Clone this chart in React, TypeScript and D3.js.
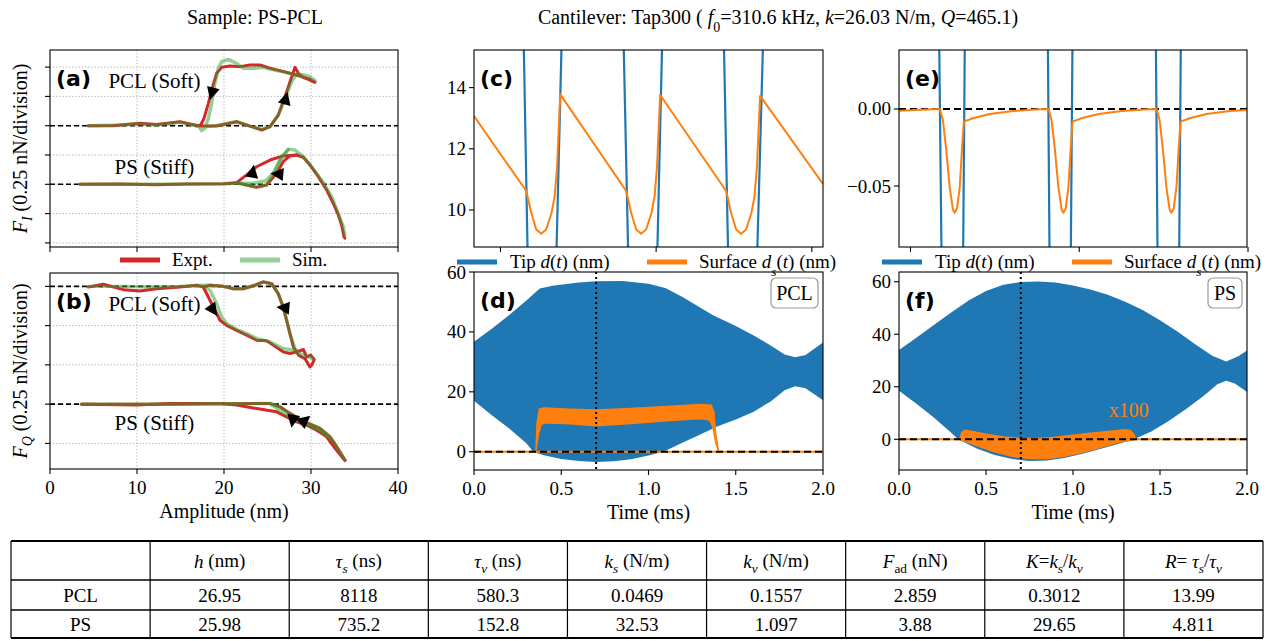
import React from "react";
import * as d3 from "d3";

type P = [number, number];

const SERIF = "Liberation Serif, DejaVu Serif, Noto Serif, serif";
const SANS = "DejaVu Sans, sans-serif";
const BLUE = "#1f77b4";
const ORANGE = "#ff7f0e";
const RED = "#d62728";
const GREEN = "#2ca02c";

// ---------- (a) F_I vs amplitude (nN; PS baseline 0, PCL baseline 0.5)
const aPclExpt: P[] = [[4.41,0.5],[7.28,0.5],[10.34,0.52],[12.26,0.51],[14.94,0.534],[16.09,0.515],[17.24,0.497],[19.15,0.497],[21.45,0.534],[22.99,0.497],[24.33,0.463],[25.29,0.492],[26.24,0.591],[27.01,0.748],[27.66,0.89],[28.16,0.998],[28.54,0.947],[29.12,0.913],[29.88,0.896],[30.46,0.87],[29.69,0.896],[28.73,0.924],[27.58,0.947],[26.43,0.97],[25.29,0.99],[24.13,1.018],[22.99,1.018],[21.84,1.004],[20.69,1.009],[19.73,0.998],[19.15,0.947],[18.7,0.833],[18.2,0.691],[17.7,0.563],[17.32,0.506],[16.86,0.497]];
const aPclSim: P[] = [[4.41,0.5],[7.28,0.505],[10.34,0.515],[12.26,0.505],[14.94,0.53],[16.09,0.51],[17.05,0.497],[17.43,0.458],[18.0,0.492],[19.15,0.503],[21.45,0.534],[23.0,0.497],[24.33,0.469],[25.29,0.492],[26.24,0.591],[27.12,0.748],[27.77,0.876],[28.35,0.941],[29.12,0.933],[29.88,0.918],[30.46,0.884],[29.88,0.913],[29.12,0.924],[28.35,0.933],[27.2,0.953],[26.05,0.97],[24.52,0.998],[23.37,0.99],[22.22,0.99],[21.45,1.032],[20.5,1.066],[19.73,1.046],[19.35,0.99],[18.96,0.861],[18.58,0.691],[18.2,0.563],[17.8,0.478],[17.43,0.458]];
const aPsExpt: P[][] = [
  [[3.45,0],[8,0.003],[12,-0.003],[16,0.003],[20,0.005],[21.45,0.014],[22.6,-0.006],[23.75,-0.026],[24.9,-0.006],[26.05,0.094],[26.8,0.193],[27.58,0.242],[28.35,0.25],[29.12,0.23],[29.88,0.165],[30.84,0.065],[31.8,-0.049],[32.56,-0.162],[33.14,-0.262],[33.52,-0.347],[33.79,-0.447],[33.9,-0.46]],
  [[28.35,0.25],[26.8,0.242],[25.3,0.207],[23.75,0.15],[22.6,0.08],[21.45,0.014]],
];
const aPsSim: P[][] = [
  [[3.45,0],[8,0],[12,0],[16,0.003],[20,0.005],[21.45,0.01],[22.6,-0.006],[23.75,-0.02],[24.9,-0.006],[25.86,0.108],[26.62,0.236],[27.39,0.298],[28.16,0.293],[29.12,0.236],[30.07,0.15],[31.22,0.037],[32.37,-0.105],[33.14,-0.248],[33.71,-0.361],[33.9,-0.432]],
  [[27.39,0.298],[26.4,0.2],[25.6,0.09],[24.8,0.03],[23.5,0.01],[21.45,0.01]],
];
// arrows: [amplitude, force, angle in degrees]
const aArrows: [number, number, number][] = [[18.6,0.776,105],[27.1,0.733,-75],[23.3,0.108,-80],[26.13,0.088,185]];

// ---------- (b) F_Q vs amplitude (PS baseline 0, PCL baseline 0.75)
const bPclExpt: P[] = [[4.41,0.746],[6.13,0.763],[8.43,0.729],[10.34,0.72],[12.26,0.735],[14.94,0.746],[16.86,0.757],[17.62,0.746],[18.2,0.682],[18.77,0.619],[19.54,0.534],[20.3,0.502],[21.45,0.47],[22.6,0.439],[23.75,0.407],[24.9,0.403],[25.86,0.369],[26.8,0.333],[27.58,0.322],[28.35,0.333],[29.12,0.348],[29.5,0.301],[29.96,0.312],[30.38,0.284],[30.08,0.248],[29.88,0.237],[29.3,0.29],[28.6,0.31],[27.97,0.364],[27.58,0.449],[27.2,0.534],[26.8,0.619],[26.24,0.703],[25.48,0.767],[24.52,0.778],[23.56,0.757],[22.22,0.735],[21.07,0.735],[19.92,0.75],[18.39,0.757],[17.62,0.746]];
const bPclSim: P[] = [[4.41,0.75],[8.05,0.75],[11.88,0.746],[14.94,0.75],[17.62,0.757],[18.39,0.725],[19.15,0.64],[19.73,0.555],[20.3,0.513],[21.45,0.475],[22.6,0.449],[23.75,0.418],[25.29,0.396],[26.82,0.354],[27.97,0.343],[29.12,0.312],[29.88,0.297],[30.27,0.29],[28.73,0.318],[28.16,0.354],[27.58,0.449],[27.2,0.534],[26.8,0.619],[26.24,0.703],[25.48,0.767],[24.52,0.778],[23.56,0.757],[22.22,0.735],[21.07,0.735],[19.92,0.75],[18.39,0.757],[17.62,0.757]];
const bPsExpt: P[][] = [
  [[3.64,0],[9.96,-0.006],[13.79,0.004],[19.54,0.004],[21.45,-0.006],[23.75,-0.028],[26.05,-0.049],[27.2,-0.081],[28.35,-0.113],[29.5,-0.134],[30.65,-0.166],[31.8,-0.208],[32.76,-0.282],[33.9,-0.36]],
  [[3.64,0],[13.79,0],[19.54,0.002],[25.29,0.004],[26.43,-0.017],[27.58,-0.059],[28.73,-0.098],[29.88,-0.127],[31.03,-0.155],[32.18,-0.208],[32.95,-0.271],[33.9,-0.356]],
];
const bPsSim: P[][] = [
  [[3.64,0],[13.79,0],[19.54,0.002],[25.29,0.004],[26.43,-0.017],[27.58,-0.059],[28.73,-0.098],[29.88,-0.127],[31.03,-0.155],[32.18,-0.208],[32.95,-0.271],[33.9,-0.356]],
  [[25.29,0.004],[27.2,-0.07],[28.73,-0.11],[29.88,-0.14],[31.03,-0.17],[32.18,-0.215]],
];
const bArrows: [number, number, number][] = [[18.77,0.598,55],[26.82,0.614,185],[27.89,-0.106,100],[29.31,-0.102,-40]];

// ---------- (c) PCL zoom, time in µs, nm
const cTip: P[][] = [
  [[700.75,15.3],[700.87,8.7]], [[701.80,8.7],[701.96,15.3]],
  [[703.96,15.3],[704.10,8.7]], [[705.04,8.7],[705.19,15.3]],
  [[707.18,15.3],[707.31,8.7]], [[708.25,8.7],[708.43,15.3]],
];
const cSurf: P[] = [[699.15,13.07],[700.83,10.62],[700.99,9.9],[701.15,9.36],[701.31,9.22],[701.47,9.36],[701.64,9.9],[701.74,10.44],[701.82,11.43],[701.88,12.85],[701.92,13.78],
  [704.04,10.62],[704.2,9.9],[704.36,9.36],[704.52,9.22],[704.68,9.36],[704.85,9.9],[704.95,10.44],[705.03,11.43],[705.09,12.85],[705.13,13.76],
  [707.25,10.62],[707.41,9.9],[707.57,9.36],[707.73,9.22],[707.89,9.36],[708.06,9.9],[708.16,10.44],[708.24,11.43],[708.3,12.85],[708.34,13.73],[710.36,10.85]];
const cYTicks = [10, 12, 14];
const zoomXTicks = [700, 705, 710];

// ---------- (d) PCL envelope, time in ms
const dTipUpper: P[] = [[0,36.7],[0.1,41],[0.2,45.6],[0.3,50.5],[0.377,54.5],[0.45,55.4],[0.6,56.5],[0.7,56.9],[0.85,57],[1.0,56.1],[1.1,54.6],[1.2,51.5],[1.3,48],[1.37,45.6],[1.5,42],[1.6,38.9],[1.7,35.5],[1.78,32.5],[1.84,31.5],[1.9,32.3],[2.0,36.5]];
const dTipLower: P[] = [[0,17],[0.1,12.3],[0.2,7.8],[0.3,2.8],[0.339,0],[0.4,-1.2],[0.5,-2.4],[0.6,-3.1],[0.7,-3.4],[0.8,-3.2],[0.9,-2.5],[1.0,-1.3],[1.085,0],[1.2,3.2],[1.3,5.8],[1.39,8.3],[1.5,10.8],[1.6,13.3],[1.7,16.8],[1.78,20.5],[1.84,21.9],[1.9,21.2],[2.0,17.2]];
const dSurfUpper: P[] = [[0.355,0.5],[0.362,10],[0.375,14.3],[0.4,14.6],[0.55,14.2],[0.7,13.9],[0.9,14.4],[1.1,15.1],[1.3,15.8],[1.36,15.5],[1.375,13],[1.385,6],[1.4,0.5]];
const dSurfLower: P[] = [[0.355,0.5],[0.37,6],[0.385,9.2],[0.41,9.7],[0.55,9.3],[0.7,8.7],[0.9,9.4],[1.1,10.3],[1.3,11.1],[1.35,10.6],[1.37,8],[1.385,3],[1.4,0.5]];

// ---------- (e) PS zoom
const eTip: P[][] = [
  [[700.85,0.045],[700.92,-0.095]], [[701.56,-0.095],[701.61,0.045]],
  [[704.07,0.045],[704.12,-0.095]], [[704.75,-0.095],[704.8,0.045]],
  [[707.27,0.045],[707.32,-0.095]], [[707.96,-0.095],[708.01,0.045]],
];
const eSurf: P[] = [[699.68,-0.0011],[700.3,-0.0005],[700.87,0],[700.96,-0.0071],[701.06,-0.0266],[701.16,-0.0505],[701.26,-0.0656],[701.31,-0.0673],[701.38,-0.0645],[701.46,-0.0505],[701.53,-0.0245],[701.58,-0.0082],[701.85,-0.006],[702.35,-0.0032],[703.04,-0.0013],[703.83,-0.0002],[704.09,0],
  [704.18,-0.0071],[704.28,-0.0266],[704.38,-0.0505],[704.48,-0.0656],[704.53,-0.0673],[704.6,-0.0645],[704.68,-0.0505],[704.75,-0.0245],[704.8,-0.0082],[705.07,-0.006],[705.57,-0.0032],[706.26,-0.0013],[707.05,-0.0002],[707.29,0],
  [707.38,-0.0071],[707.48,-0.0266],[707.58,-0.0505],[707.68,-0.0656],[707.73,-0.0673],[707.8,-0.0645],[707.88,-0.0505],[707.95,-0.0245],[708.0,-0.0082],[708.27,-0.006],[708.77,-0.0032],[709.46,-0.0013],[709.97,-0.0007]];
const eYTicks = [0, -0.05];

// ---------- (f) PS envelope (surface x100)
const fTipUpper: P[] = [[0,34],[0.1,38.7],[0.2,43.5],[0.3,48.3],[0.4,52.8],[0.5,56.5],[0.6,58.8],[0.7,59.9],[0.8,60.1],[0.9,59.7],[1.0,58.6],[1.1,57],[1.2,55],[1.3,52.4],[1.4,49.2],[1.5,45.3],[1.6,41],[1.7,36.3],[1.8,31.8],[1.88,29.6],[1.95,31.6],[2.0,33.8]];
const fTipLower: P[] = [[0,18.5],[0.1,13.5],[0.2,8.3],[0.3,2.5],[0.34,0],[0.45,-3.6],[0.55,-6],[0.65,-7.5],[0.75,-8.3],[0.85,-8.1],[0.95,-7.1],[1.05,-5.6],[1.15,-3.8],[1.25,-2],[1.35,0],[1.45,3],[1.55,7],[1.65,11.5],[1.75,16.5],[1.83,21],[1.88,22.3],[1.93,21.2],[2.0,18]];
const fSurfUpper: P[] = [[0.35,0],[0.36,2.5],[0.38,3.4],[0.42,3.0],[0.5,1.9],[0.6,0.9],[0.7,0.3],[0.8,0.3],[0.9,0.8],[1.0,1.5],[1.1,2.3],[1.2,3.0],[1.3,3.6],[1.33,3.3],[1.35,1.8],[1.36,0]];
const fSurfLower: P[] = [[0.35,0],[0.45,-2.5],[0.55,-4.8],[0.65,-6.5],[0.75,-7.3],[0.85,-7.3],[0.95,-6.5],[1.05,-5],[1.15,-3.2],[1.25,-1.3],[1.36,0]];

const envYTicks = [0, 20, 40, 60];
const timeTicks = [0, 0.5, 1.0, 1.5, 2.0];
const ampTicks = [0, 10, 20, 30, 40];
const aYTicks = [-0.5, -0.25, 0, 0.25, 0.5, 0.75, 1.0];
const bYTicks = [-0.25, 0, 0.25, 0.5, 0.75];

// ---------- table
const tableRowNames = ["PCL", "PS"];
const tableValues = [
  ["26.95", "8118", "580.3", "0.0469", "0.1557", "2.859", "0.3012", "13.99"],
  ["25.98", "735.2", "152.8", "32.53", "1.097", "3.88", "29.65", "4.811"],
];

type Box = { l: number; r: number; t: number; b: number };
const boxA: Box = { l: 50, r: 398, t: 50, b: 247 };
const boxB: Box = { l: 50, r: 398, t: 273, b: 469 };
const boxC: Box = { l: 474, r: 823, t: 50, b: 247 };
const boxD: Box = { l: 474, r: 823, t: 272, b: 470 };
const boxE: Box = { l: 899, r: 1247, t: 50, b: 247 };
const boxF: Box = { l: 899, r: 1247, t: 272, b: 470 };

const xA = d3.scaleLinear().domain([0, 40]).range([boxA.l, boxA.r]);
const yA = d3.scaleLinear().domain([-0.535, 1.146]).range([boxA.b, boxA.t]);
const yB = d3.scaleLinear().domain([-0.413, 0.835]).range([boxB.b, boxB.t]);
const xC = d3.scaleLinear().domain([699.15, 710.36]).range([boxC.l, boxC.r]);
const yC = d3.scaleLinear().domain([8.79, 15.23]).range([boxC.b, boxC.t]);
const xD = d3.scaleLinear().domain([0, 2]).range([boxD.l, boxD.r]);
const yD = d3.scaleLinear().domain([-6.1, 60]).range([boxD.b, boxD.t]);
const xE = d3.scaleLinear().domain([699.66, 709.97]).range([boxE.l, boxE.r]);
const yE = d3.scaleLinear().domain([-0.0896, 0.0383]).range([boxE.b, boxE.t]);
const xF = d3.scaleLinear().domain([0, 2]).range([boxF.l, boxF.r]);
const yF = d3.scaleLinear().domain([-11.7, 63.7]).range([boxF.b, boxF.t]);

type S = d3.ScaleLinear<number, number>;
const mkLine = (xs: S, ys: S) => (pts: P[]) =>
  d3.line<P>().x((d) => xs(d[0])).y((d) => ys(d[1]))(pts) || "";
const band = (xs: S, ys: S, up: P[], lo: P[]) =>
  mkLine(xs, ys)([...up, ...lo.slice().reverse()]) + "Z";

function Frame({ b }: { b: Box }) {
  return <rect x={b.l} y={b.t} width={b.r - b.l} height={b.b - b.t} fill="none" stroke="#000" strokeWidth={1.1} />;
}

function YAxis({ b, ys, ticks, fmt }: { b: Box; ys: S; ticks: number[]; fmt?: (v: number) => string }) {
  return (
    <g>
      {ticks.map((t) => (
        <g key={t}>
          <line x1={b.l - 5} x2={b.l} y1={ys(t)} y2={ys(t)} stroke="#000" strokeWidth={1.1} />
          {fmt && (
            <text x={b.l - 8} y={ys(t)} textAnchor="end" dominantBaseline="central" fontFamily={SERIF} fontSize={19}>
              {fmt(t)}
            </text>
          )}
        </g>
      ))}
    </g>
  );
}

function XAxis({ b, xs, ticks, fmt }: { b: Box; xs: S; ticks: number[]; fmt?: (v: number) => string }) {
  return (
    <g>
      {ticks.map((t) => (
        <g key={t}>
          <line x1={xs(t)} x2={xs(t)} y1={b.b} y2={b.b + 5} stroke="#000" strokeWidth={1.1} />
          {fmt && (
            <text x={xs(t)} y={b.b + 25} textAnchor="middle" fontFamily={SERIF} fontSize={19}>
              {fmt(t)}
            </text>
          )}
        </g>
      ))}
    </g>
  );
}

function Grid({ b, xs, ys, xt, yt }: { b: Box; xs: S; ys: S; xt: number[]; yt: number[] }) {
  return (
    <g stroke="#b0b0b0" strokeWidth={1} strokeDasharray="1.2,2">
      {xt.filter((t) => xs(t) > b.l + 1 && xs(t) < b.r - 1).map((t) => (
        <line key={"x" + t} x1={xs(t)} x2={xs(t)} y1={b.t} y2={b.b} />
      ))}
      {yt.map((t) => (
        <line key={"y" + t} x1={b.l} x2={b.r} y1={ys(t)} y2={ys(t)} />
      ))}
    </g>
  );
}

function Label({ b, text }: { b: Box; text: string }) {
  return (
    <text x={b.l + 6} y={b.t + 36} fontFamily={SANS} fontWeight="bold" fontSize={22}>
      {text}
    </text>
  );
}

function Arrow({ x, y, a }: { x: number; y: number; a: number }) {
  return <path d="M7,0 L-6,-6.5 L-6,6.5 Z" fill="#000" transform={`translate(${x},${y}) rotate(${a})`} />;
}

function Sub({ children, italic }: { children: React.ReactNode; italic?: boolean }) {
  return (
    <tspan baselineShift="sub" fontSize="70%" fontStyle={italic ? "italic" : "normal"}>
      {children}
    </tspan>
  );
}

function ForcePanel({ b, ys, yt, zeros, pclE, pclS, psE, psS, arrows, pclY, psY, clip }: any) {
  const ln = mkLine(xA, ys);
  return (
    <g>
      <Grid b={b} xs={xA} ys={ys} xt={ampTicks} yt={yt} />
      {zeros.map((z: number) => (
        <line key={z} x1={b.l} x2={b.r} y1={ys(z)} y2={ys(z)} stroke="#000" strokeWidth={1.6} strokeDasharray="5,3" />
      ))}
      <g clipPath={`url(#${clip})`} fill="none" strokeLinejoin="round" strokeLinecap="round">
        <path d={ln(pclE)} stroke={RED} strokeWidth={3} />
        {psE.map((s: P[], i: number) => <path key={i} d={ln(s)} stroke={RED} strokeWidth={3} />)}
        <path d={ln(pclS)} stroke={GREEN} strokeOpacity={0.5} strokeWidth={3.4} />
        {psS.map((s: P[], i: number) => <path key={i} d={ln(s)} stroke={GREEN} strokeOpacity={0.5} strokeWidth={3.4} />)}
      </g>
      {arrows.map((a: [number, number, number], i: number) => (
        <Arrow key={i} x={xA(a[0])} y={ys(a[1])} a={a[2]} />
      ))}
      <text x={xA(12)} y={ys(pclY)} textAnchor="middle" fontFamily={SERIF} fontSize={21}>PCL (Soft)</text>
      <text x={xA(12)} y={ys(psY)} textAnchor="middle" fontFamily={SERIF} fontSize={21}>PS (Stiff)</text>
      <YAxis b={b} ys={ys} ticks={yt} />
      <Frame b={b} />
    </g>
  );
}

function TipLegend({ x, y }: { x: number; y: number }) {
  return (
    <g fontFamily={SERIF} fontSize={19}>
      <line x1={x} x2={x + 40} y1={y} y2={y} stroke={BLUE} strokeWidth={5} />
      <text x={x + 53} y={y + 6}>
        Tip <tspan fontStyle="italic">d</tspan>(<tspan fontStyle="italic">t</tspan>) (nm)
      </text>
      <line x1={x + 190} x2={x + 230} y1={y} y2={y} stroke={ORANGE} strokeWidth={5} />
      <text x={x + 242} y={y + 6}>
        Surface <tspan fontStyle="italic">d</tspan><Sub italic>s</Sub>(<tspan fontStyle="italic">t</tspan>) (nm)
      </text>
    </g>
  );
}

function EnvPanel({ b, xs, ys, up, lo, sUp, sLo, name }: any) {
  const w = name.length * 13 + 8;
  return (
    <g>
      <path d={band(xs, ys, up, lo)} fill={BLUE} />
      <line x1={b.l} x2={b.r} y1={ys(0)} y2={ys(0)} stroke={ORANGE} strokeWidth={2} />
      <path d={band(xs, ys, sUp, sLo)} fill={ORANGE} stroke={ORANGE} strokeWidth={1.5} strokeLinejoin="round" />
      <line x1={b.l} x2={b.r} y1={ys(0)} y2={ys(0)} stroke="#000" strokeWidth={2} strokeDasharray="7,4" />
      <line x1={xs(0.7)} x2={xs(0.7)} y1={b.t} y2={b.b} stroke="#000" strokeWidth={2} strokeDasharray="2,3" />
      <rect x={b.r - 5 - w} y={b.t + 6} width={w} height={30} rx={5} fill="#fff" fillOpacity={0.85} stroke="#999" strokeWidth={1.2} />
      <text x={b.r - 5 - w / 2} y={b.t + 28} textAnchor="middle" fontFamily={SERIF} fontSize={20}>{name}</text>
      <YAxis b={b} ys={ys} ticks={envYTicks} fmt={(v) => String(v)} />
      <XAxis b={b} xs={xs} ticks={timeTicks} fmt={(v) => v.toFixed(1)} />
      <text x={(b.l + b.r) / 2} y={b.b + 49} textAnchor="middle" fontFamily={SERIF} fontSize={20}>Time (ms)</text>
      <Frame b={b} />
    </g>
  );
}

export default function App() {
  const lnC = mkLine(xC, yC);
  const lnE = mkLine(xE, yE);
  const colW = (1263 - 11) / 9;
  const rows = [541, 580, 610, 638];
  const headers: React.ReactNode[] = [
    "",
    <><tspan fontStyle="italic">h</tspan> (nm)</>,
    <><tspan fontStyle="italic">τ</tspan><Sub italic>s</Sub> (ns)</>,
    <><tspan fontStyle="italic">τ</tspan><Sub italic>v</Sub> (ns)</>,
    <><tspan fontStyle="italic">k</tspan><Sub italic>s</Sub> (N/m)</>,
    <><tspan fontStyle="italic">k</tspan><Sub italic>v</Sub> (N/m)</>,
    <><tspan fontStyle="italic">F</tspan><Sub>ad</Sub> (nN)</>,
    <><tspan fontStyle="italic">K</tspan>=<tspan fontStyle="italic">k</tspan><Sub italic>s</Sub>/<tspan fontStyle="italic">k</tspan><Sub italic>v</Sub></>,
    <><tspan fontStyle="italic">R</tspan>= <tspan fontStyle="italic">τ</tspan><Sub italic>s</Sub>/<tspan fontStyle="italic">τ</tspan><Sub italic>v</Sub></>,
  ];
  return (
    <svg width={1276} height={641} style={{ position: "absolute", left: 0, top: 0, background: "#fff" }}>
      <defs>
        {[["cA", boxA], ["cB", boxB], ["cC", boxC], ["cE", boxE]].map(([id, b]: any) => (
          <clipPath id={id} key={id}>
            <rect x={b.l} y={b.t} width={b.r - b.l} height={b.b - b.t} />
          </clipPath>
        ))}
      </defs>
      <rect width={1276} height={641} fill="#fff" />

      {/* titles */}
      <text x={255} y={24} textAnchor="middle" fontFamily={SERIF} fontSize={20}>Sample: PS-PCL</text>
      <text x={778} y={24} textAnchor="middle" fontFamily={SERIF} fontSize={20}>
        Cantilever: Tap300 ( <tspan fontStyle="italic">f</tspan><Sub>0</Sub>=310.6 kHz, <tspan fontStyle="italic">k</tspan>=26.03 N/m, <tspan fontStyle="italic">Q</tspan>=465.1)
      </text>

      {/* (a) */}
      <ForcePanel b={boxA} ys={yA} yt={aYTicks} zeros={[0, 0.5]} pclE={aPclExpt} pclS={aPclSim} psE={aPsExpt} psS={aPsSim} arrows={aArrows} pclY={0.822} psY={0.088} clip="cA" />
      <XAxis b={boxA} xs={xA} ticks={ampTicks} />
      <Label b={boxA} text="(a)" />
      <text transform={`translate(20,${(boxA.t + boxA.b) / 2}) rotate(-90)`} textAnchor="middle" dominantBaseline="central" fontFamily={SERIF} fontSize={20}>
        <tspan fontStyle="italic">F</tspan><Sub italic>I</Sub> (0.25 nN/division)
      </text>

      {/* legend Expt / Sim */}
      <g fontFamily={SERIF} fontSize={19}>
        <line x1={120} x2={160} y1={260} y2={260} stroke={RED} strokeWidth={5} />
        <text x={172} y={266}>Expt.</text>
        <line x1={240} x2={280} y1={260} y2={260} stroke={GREEN} strokeOpacity={0.5} strokeWidth={5} />
        <text x={292} y={266}>Sim.</text>
      </g>

      {/* (b) */}
      <ForcePanel b={boxB} ys={yB} yt={bYTicks} zeros={[0, 0.75]} pclE={bPclExpt} pclS={bPclSim} psE={bPsExpt} psS={bPsSim} arrows={bArrows} pclY={0.591} psY={-0.165} clip="cB" />
      <XAxis b={boxB} xs={xA} ticks={ampTicks} fmt={(v) => String(v)} />
      <text x={(boxB.l + boxB.r) / 2} y={boxB.b + 49} textAnchor="middle" fontFamily={SERIF} fontSize={20}>Amplitude (nm)</text>
      <Label b={boxB} text="(b)" />
      <text transform={`translate(20,${(boxB.t + boxB.b) / 2}) rotate(-90)`} textAnchor="middle" dominantBaseline="central" fontFamily={SERIF} fontSize={20}>
        <tspan fontStyle="italic">F</tspan><Sub italic>Q</Sub> (0.25 nN/division)
      </text>

      {/* (c) */}
      <g clipPath="url(#cC)" fill="none">
        {cTip.map((s, i) => <path key={i} d={lnC(s)} stroke={BLUE} strokeWidth={2.2} />)}
        <path d={lnC(cSurf)} stroke={ORANGE} strokeWidth={2} strokeLinejoin="round" />
      </g>
      <YAxis b={boxC} ys={yC} ticks={cYTicks} fmt={(v) => String(v)} />
      <XAxis b={boxC} xs={xC} ticks={zoomXTicks} />
      <Label b={boxC} text="(c)" />
      <Frame b={boxC} />
      <TipLegend x={457} y={262} />

      {/* (d) */}
      <EnvPanel b={boxD} xs={xD} ys={yD} up={dTipUpper} lo={dTipLower} sUp={dSurfUpper} sLo={dSurfLower} name="PCL" />
      <Label b={boxD} text="(d)" />

      {/* (e) */}
      <line x1={boxE.l} x2={boxE.r} y1={yE(0)} y2={yE(0)} stroke="#000" strokeWidth={2} strokeDasharray="7,4" />
      <g clipPath="url(#cE)" fill="none">
        {eTip.map((s, i) => <path key={i} d={lnE(s)} stroke={BLUE} strokeWidth={2.2} />)}
        <path d={lnE(eSurf)} stroke={ORANGE} strokeWidth={2} strokeLinejoin="round" />
      </g>
      <YAxis b={boxE} ys={yE} ticks={eYTicks} fmt={(v) => (v === 0 ? "0.00" : "\u2212" + Math.abs(v).toFixed(2))} />
      <XAxis b={boxE} xs={xE} ticks={zoomXTicks} />
      <Label b={boxE} text="(e)" />
      <Frame b={boxE} />
      <TipLegend x={882} y={262} />

      {/* (f) */}
      <EnvPanel b={boxF} xs={xF} ys={yF} up={fTipUpper} lo={fTipLower} sUp={fSurfUpper} sLo={fSurfLower} name="PS" />
      <text x={xF(1.32)} y={yF(11)} textAnchor="middle" dominantBaseline="central" fontFamily={SERIF} fontSize={20} fill={ORANGE}>x100</text>
      <Label b={boxF} text="(f)" />

      {/* table */}
      <g fontFamily={SERIF} fontSize={19}>
        {rows.map((y, i) => (
          <line key={"r" + i} x1={11} x2={1263} y1={y} y2={y} stroke="#000" strokeWidth={i === 0 || i === 3 ? 2 : 1.6} />
        ))}
        {d3.range(10).map((i) => (
          <line key={"c" + i} x1={11 + i * colW} x2={11 + i * colW} y1={rows[0]} y2={rows[3]} stroke="#000" strokeWidth={1.2} />
        ))}
        {headers.map((h, i) => (
          <text key={"h" + i} x={11 + (i + 0.5) * colW} y={(rows[0] + rows[1]) / 2} textAnchor="middle" dominantBaseline="central">{h}</text>
        ))}
        {tableRowNames.map((name, r) => (
          <g key={name}>
            <text x={11 + 0.5 * colW} y={(rows[r + 1] + rows[r + 2]) / 2} textAnchor="middle" dominantBaseline="central">{name}</text>
            {tableValues[r].map((v, c) => (
              <text key={c} x={11 + (c + 1.5) * colW} y={(rows[r + 1] + rows[r + 2]) / 2} textAnchor="middle" dominantBaseline="central">{v}</text>
            ))}
          </g>
        ))}
      </g>
    </svg>
  );
}
